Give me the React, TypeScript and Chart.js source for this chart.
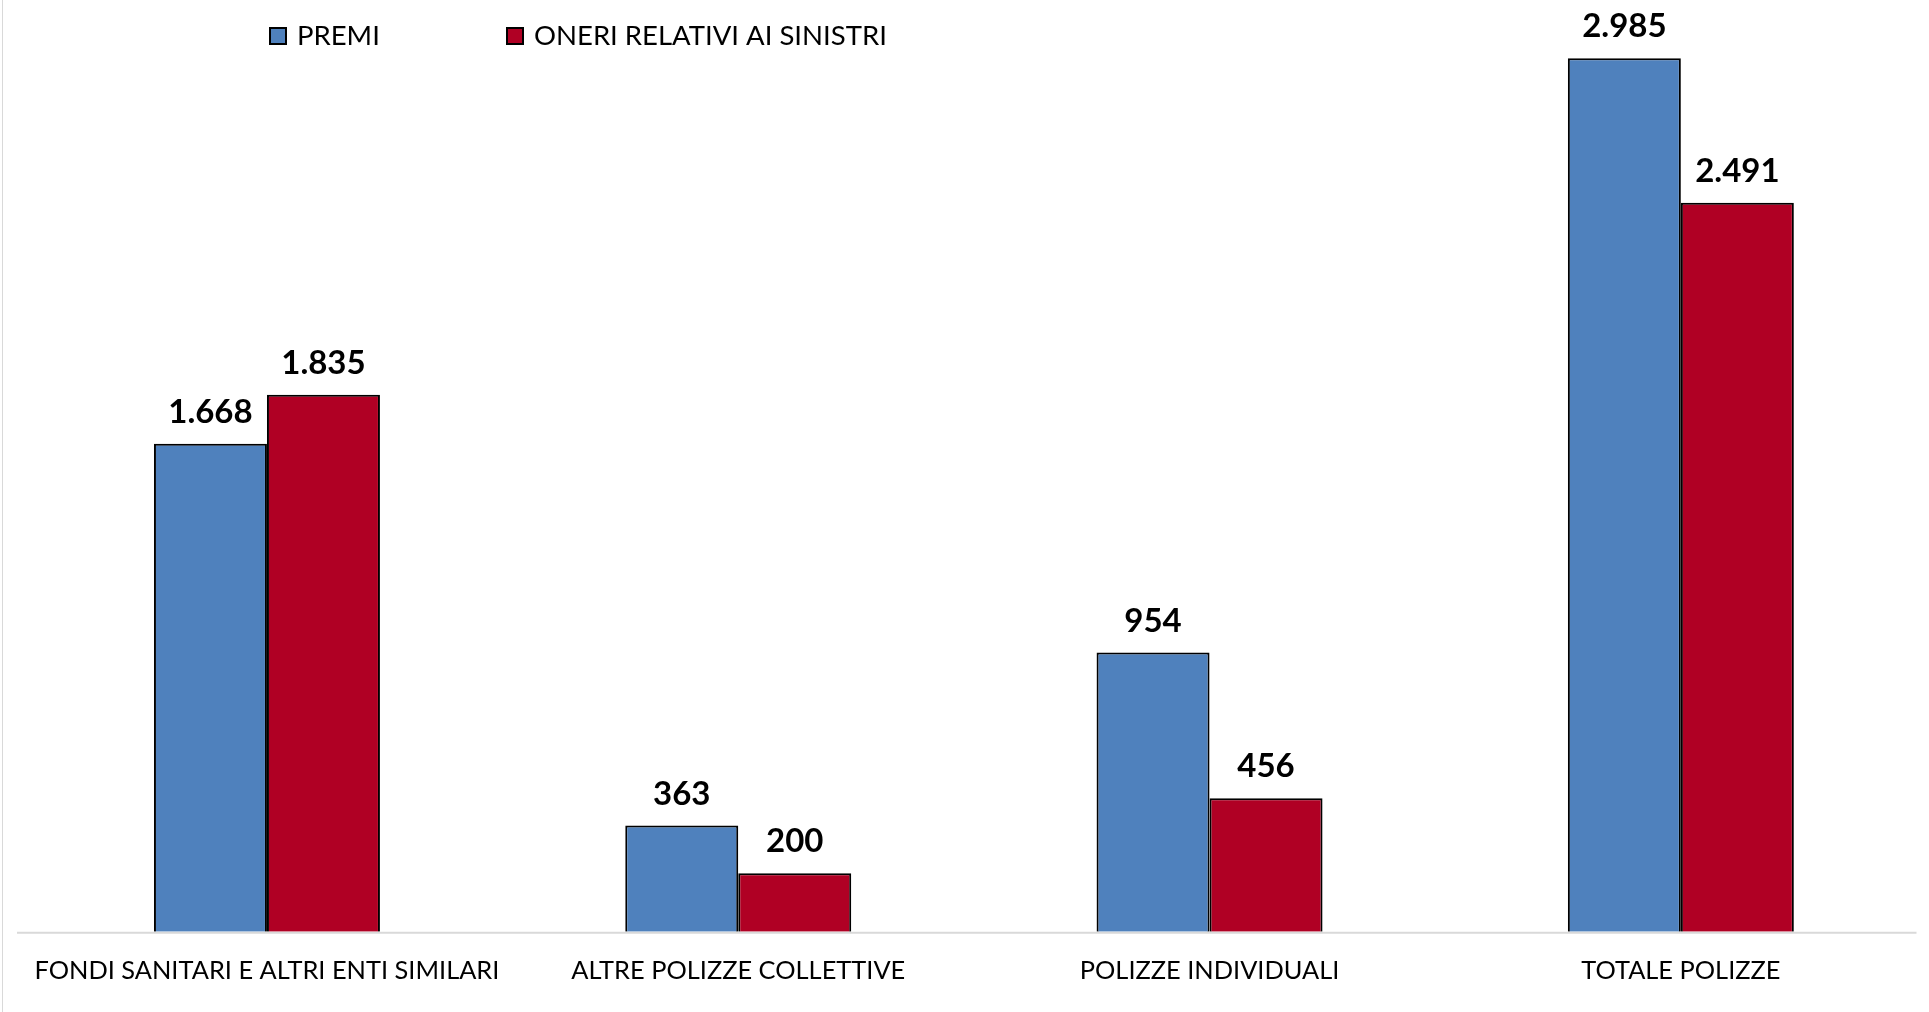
import React, { useEffect, useRef } from "react";
import { Chart, registerables } from "chart.js";

Chart.register(...registerables);

const categories = [
  "FONDI SANITARI E ALTRI ENTI SIMILARI",
  "ALTRE POLIZZE COLLETTIVE",
  "POLIZZE INDIVIDUALI",
  "TOTALE POLIZZE",
];
const premi = [1668, 363, 954, 2985];
const oneri = [1835, 200, 456, 2491];
const seriesNames = ["PREMI", "ONERI RELATIVI AI SINISTRI"];
const seriesColors = ["#4F81BD", "#B00024"];
const yMax = 3000;

const fmt = (v: number) => String(v).replace(/\B(?=(\d{3})+(?!\d))/g, ".");

const FONT = "Lato, 'Open Sans', sans-serif";

const decorPlugin = {
  id: "decor",
  beforeDatasetsDraw(chart: any) {
    const ctx = chart.ctx;
    const y0 = chart.scales.y.getPixelForValue(0);
    ctx.save();
    // left chart border
    ctx.strokeStyle = "#D9D9D9";
    ctx.lineWidth = 1;
    ctx.beginPath();
    ctx.moveTo(2.5, 0);
    ctx.lineTo(2.5, chart.height);
    ctx.stroke();
    // category axis line
    ctx.lineWidth = 2;
    ctx.beginPath();
    ctx.moveTo(17, y0 + 1);
    ctx.lineTo(chart.chartArea.right, y0 + 1);
    ctx.stroke();
    ctx.restore();
  },
  afterDatasetsDraw(chart: any) {
    const ctx = chart.ctx;
    ctx.save();
    ctx.font = `bold 33px ${FONT}`;
    ctx.fillStyle = "#000";
    ctx.textAlign = "center";
    ctx.textBaseline = "alphabetic";
    chart.data.datasets.forEach((ds: any, di: number) => {
      const meta = chart.getDatasetMeta(di);
      meta.data.forEach((el: any, i: number) => {
        ctx.fillText(fmt(ds.data[i]), el.x, el.y - 21);
      });
    });
    ctx.restore();
  },
  afterDraw(chart: any) {
    const ctx = chart.ctx;
    const legendX = [269, 506];
    ctx.save();
    ctx.font = `27.5px ${FONT}`;
    ctx.textBaseline = "alphabetic";
    ctx.textAlign = "left";
    chart.data.datasets.forEach((ds: any, di: number) => {
      const bx = legendX[di];
      ctx.fillStyle = ds.backgroundColor;
      ctx.fillRect(bx, 27, 18, 18);
      ctx.strokeStyle = "#000";
      ctx.lineWidth = 2;
      ctx.strokeRect(bx + 1, 28, 16, 16);
      ctx.fillStyle = "#000";
      ctx.fillText(ds.label, bx + 28, 45);
    });
    ctx.restore();
  },
};

export default function App() {
  const ref = useRef<HTMLCanvasElement | null>(null);
  useEffect(() => {
    if (!ref.current) return;
    const chart = new Chart(ref.current, {
      type: "bar",
      data: {
        labels: categories,
        datasets: [
          {
            label: seriesNames[0],
            data: premi,
            backgroundColor: seriesColors[0],
            borderColor: "#000",
            borderWidth: 2,
            categoryPercentage: 0.4795,
            barPercentage: 1,
          },
          {
            label: seriesNames[1],
            data: oneri,
            backgroundColor: seriesColors[1],
            borderColor: "#000",
            borderWidth: 2,
            categoryPercentage: 0.4795,
            barPercentage: 1,
          },
        ],
      },
      options: {
        animation: false,
        responsive: false,
        devicePixelRatio: 1,
        layout: { padding: { top: 53.9, left: 31.3, right: 12.5, bottom: 1.8 } },
        plugins: {
          legend: { display: false },
          tooltip: { enabled: false },
        },
        scales: {
          x: {
            grid: { display: false, drawTicks: false },
            border: { display: false },
            ticks: {
              color: "#000",
              font: { family: FONT, size: 25.4 },
              padding: 24,
              maxRotation: 0,
              autoSkip: false,
            },
          },
          y: {
            display: false,
            min: 0,
            max: yMax,
          },
        },
      },
      plugins: [decorPlugin],
    });
    return () => chart.destroy();
  }, []);
  return (
    <div style={{ position: "fixed", left: 0, top: 0, width: 1929, height: 1012, background: "#fff" }}>
      <canvas ref={ref} width={1929} height={1012} />
    </div>
  );
}
